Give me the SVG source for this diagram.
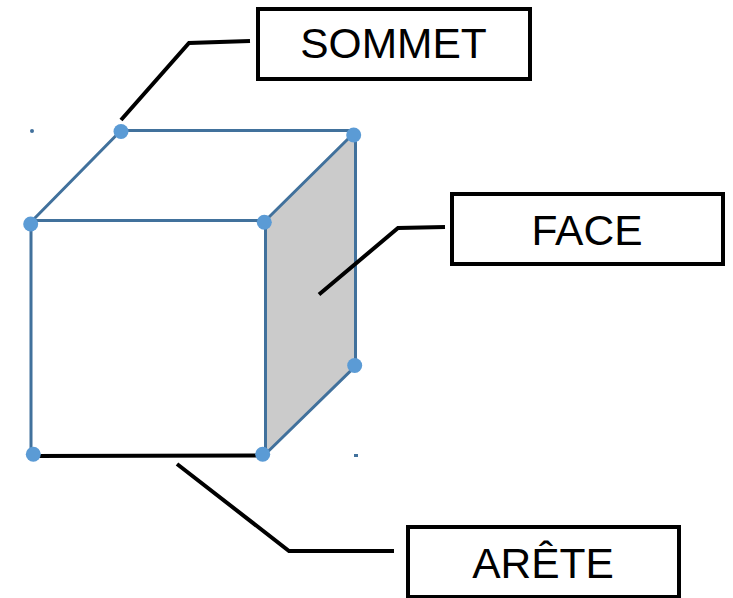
<svg xmlns="http://www.w3.org/2000/svg" width="733" height="598" viewBox="0 0 733 598">
<style>
.edge{fill:none;stroke:#41719c;stroke-width:3}
.lead{fill:none;stroke:#000;stroke-width:4}
.dot{fill:#5b9bd5}
.box{fill:#fff;stroke:#000;stroke-width:4}
text{font-family:"Liberation Sans",Arial,sans-serif;font-size:42.500px;fill:#000;text-anchor:middle}
</style>
<rect width="733" height="598" fill="#fff"/>
<g id="cube">
<polygon points="266,220.500 355.500,132 355.500,366 266,454" fill="#cbcbcb"/>
<path class="edge" d="M31,220.500H265.500V454M31,220.500V454M31,222L121,130.500H354M265.500,220.500L354,133M355.500,133V366L265.500,454"/>
<rect x="30" y="129" width="4" height="4" rx="2" fill="#41719c"/>
<rect x="354" y="454" width="4" height="3" fill="#41719c"/>
</g>
<g id="connectors">
<path class="lead" d="M121,120L189,43L250,41"/>
<path class="lead" d="M319,294.500L398,228L445,227"/>
<path class="lead" d="M177,464L289,551H394"/>
<path class="lead" d="M33,456L263,455.500"/>
</g>
<g id="vertices">
<circle class="dot" cx="121" cy="131.500" r="7.500"/>
<circle class="dot" cx="353.700" cy="135" r="7.500"/>
<circle class="dot" cx="30.700" cy="224" r="7.500"/>
<circle class="dot" cx="264.300" cy="222.300" r="7.500"/>
<circle class="dot" cx="354.700" cy="365.500" r="7.500"/>
<circle class="dot" cx="33.300" cy="454.300" r="7.500"/>
<circle class="dot" cx="262.700" cy="454.300" r="7.500"/>
</g>
<g id="sommet">
<rect class="box" x="258" y="9" width="272" height="70"/>
<text x="393.500" y="58">SOMMET</text>
</g>
<g id="face">
<rect class="box" x="452" y="194" width="271" height="70"/>
<text x="587" y="245">FACE</text>
</g>
<g id="arete">
<rect class="box" x="408" y="527" width="271" height="70"/>
<text x="543" y="578">ARÊTE</text>
</g>
</svg>
